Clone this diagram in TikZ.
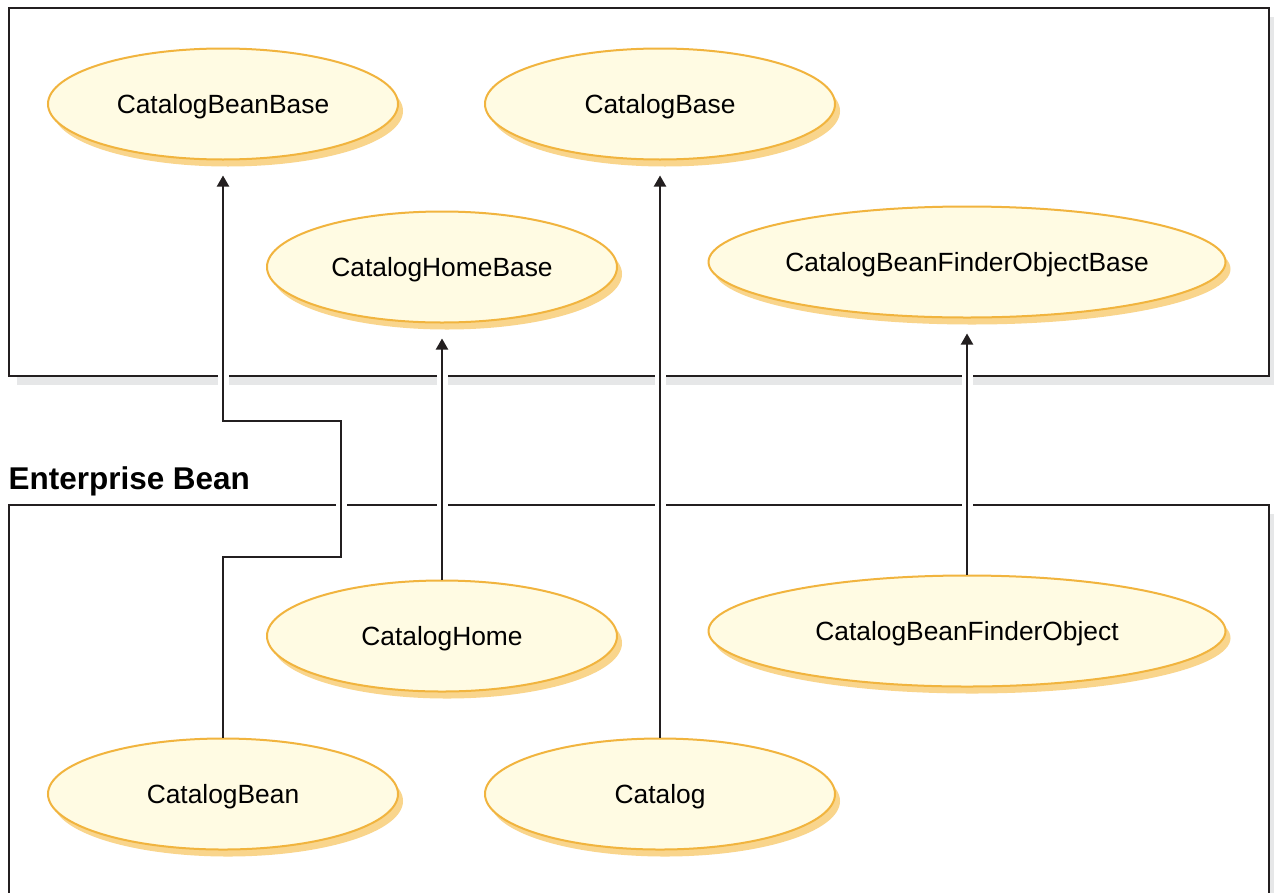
\documentclass[tikz,border=0pt]{standalone}
\usepackage{fontspec}
\setmainfont{Liberation Sans}
\usetikzlibrary{shapes.geometric}
\usetikzlibrary{shadows}
\usetikzlibrary{arrows.meta}
\definecolor{beanFillColor}{HTML}{FFFBE3}
\definecolor{beanLineColor}{HTML}{F1B43E}
\definecolor{beanShadowColor}{HTML}{F9D58C}
\definecolor{frameColor}{HTML}{231F20}
\definecolor{frameShadowColor}{HTML}{E6E7E8}

\begin{document}
\begin{tikzpicture}[
    bean/.style={ellipse, draw=beanLineColor, line width=0.02cm, fill=beanFillColor,
      minimum width=3.5cm, minimum height=1.11cm, inner sep=0pt, text depth=0pt,
      general shadow={fill=beanShadowColor, shadow xshift=0.05cm, shadow yshift=-0.07cm},
      font=\fontsize{7.5}{9}\selectfont},
    wide bean/.style={bean, minimum width=5.17cm},
    link/.style={draw=frameColor, line width=0.02cm, -{Triangle[length=0.11cm, width=0.12cm]},
      shorten >=0.15cm, preaction={draw=white, line width=0.11cm, -, shorten <=0.03cm}},
    frame/.style={draw=frameColor, line width=0.025cm}
  ]
      \useasboundingbox (0,0) rectangle (12.74,-8.92);

      % framework box
      \fill[frameShadowColor] (0.17,-0.17) rectangle (12.78,-3.85);
      \draw[frame, fill=white] (0.09,-0.08) rectangle (12.69,-3.76);

      % enterprise bean box
      \node[anchor=base west, inner sep=0pt, font=\bfseries\fontsize{8.95}{10}\selectfont] (title) at (0.08,-4.89) {Enterprise Bean};
      \fill[frameShadowColor] (0.17,-5.14) rectangle (12.78,-9.5);
      \draw[frame, fill=white] (0.09,-5.05) rectangle (12.69,-9.5);

      \node[bean] (beanbase) at (2.23,-1.04) {CatalogBeanBase};
      \node[bean] (catalogbase) at (6.60,-1.04) {CatalogBase};
      \node[bean] (homebase) at (4.42,-2.67) {CatalogHomeBase};
      \node[wide bean] (finderbase) at (9.67,-2.62) {CatalogBeanFinderObjectBase};

      \node[bean] (home) at (4.42,-6.36) {CatalogHome};
      \node[wide bean] (finder) at (9.67,-6.31) {CatalogBeanFinderObject};
      \node[bean] (bean) at (2.23,-7.94) {CatalogBean};
      \node[bean] (catalog) at (6.60,-7.94) {Catalog};

      \draw[link] (bean.north) -- ++(0,1.81) -- ++(1.18,0) -- ++(0,1.36) -| (beanbase.south);
      \draw[link] (home.north) -- (homebase.south);
      \draw[link] (catalog.north) -- (catalogbase.south);
      \draw[link] (finder.north) -- (finderbase.south);
    \end{tikzpicture}
\end{document}
